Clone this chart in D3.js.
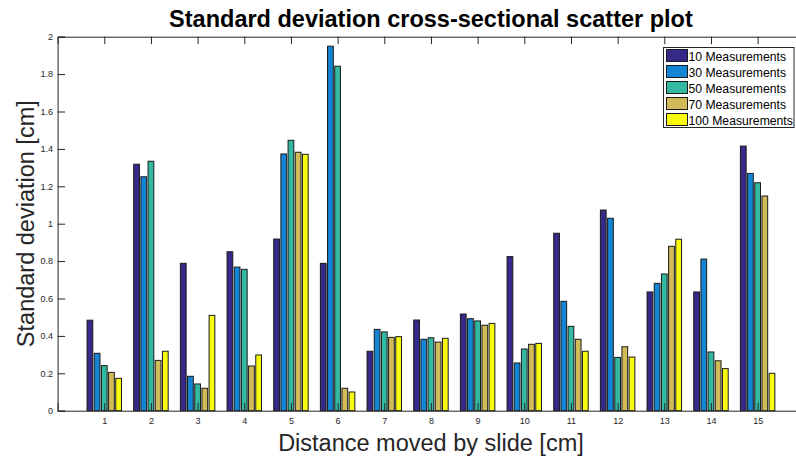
<!DOCTYPE html>
<html>
<head>
<meta charset="utf-8">
<script src="https://cdn.jsdelivr.net/npm/d3@7"></script>
<style>
  body { margin: 0; background: #fff; }
  svg { display: block; font-family: "Liberation Sans", Arial, Helvetica, sans-serif; }
</style>
</head>
<body>
<svg id="chart" width="796" height="459"></svg>
<script>
const categories = [1, 2, 3, 4, 5, 6, 7, 8, 9, 10, 11, 12, 13, 14, 15];
const seriesNames = ["10 Measurements", "30 Measurements", "50 Measurements", "70 Measurements", "100 Measurements"];
const m10  = [0.484, 1.318, 0.788, 0.850, 0.918, 0.788, 0.318, 0.485, 0.517, 0.824, 0.949, 1.073, 0.635, 0.635, 1.415];
const m30  = [0.307, 1.251, 0.184, 0.768, 1.373, 1.949, 0.435, 0.382, 0.492, 0.255, 0.585, 1.029, 0.681, 0.811, 1.269];
const m50  = [0.241, 1.334, 0.143, 0.756, 1.446, 1.842, 0.421, 0.390, 0.480, 0.330, 0.451, 0.285, 0.731, 0.314, 1.219];
const m70  = [0.205, 0.269, 0.120, 0.239, 1.382, 0.120, 0.392, 0.367, 0.457, 0.355, 0.382, 0.342, 0.879, 0.267, 1.148];
const m100 = [0.173, 0.318, 0.510, 0.298, 1.371, 0.100, 0.396, 0.387, 0.467, 0.360, 0.318, 0.287, 0.917, 0.225, 0.200];
const yTicks = [0, 0.2, 0.4, 0.6, 0.8, 1, 1.2, 1.4, 1.6, 1.8, 2];
const colors = ["#352a87", "#1484d4", "#33b8a1", "#d1bb59", "#f9fb0e"];

const series = [m10, m30, m50, m70, m100];

const svg = d3.select("#chart");
const mLeft = 57.6, mTop = 36.7, mBottom = 410.7;
const plotRight = 804.3;

const x = d3.scaleLinear().domain([0, 16]).range([mLeft, plotRight]);
const y = d3.scaleLinear().domain([0, 2]).range([mBottom, mTop]);

const nS = series.length;
const groupWidth = Math.min(0.8, nS / (nS + 1.5));
const slot = groupWidth / nS;
const barW = slot * 0.8;

// bars
series.forEach((vals, si) => {
  svg.append("g").selectAll("rect")
    .data(vals)
    .join("rect")
    .attr("x", (d, i) => x(categories[i] - groupWidth / 2 + slot * si + (slot - barW) / 2))
    .attr("y", d => y(d))
    .attr("width", x(barW) - x(0))
    .attr("height", d => y(0) - y(d))
    .attr("fill", colors[si])
    .attr("stroke", "#1a1a1a")
    .attr("stroke-width", 1);
});

const axisColor = "#262626";
const tickLen = 7.5;

// bottom axis
const xAxisB = d3.axisBottom(x).tickValues(categories).tickSize(-tickLen).tickPadding(6.5).tickFormat(d3.format("d"));
const gB = svg.append("g").attr("transform", `translate(0,${mBottom})`).call(xAxisB);
// top axis
const xAxisT = d3.axisTop(x).tickValues(categories).tickSize(-tickLen).tickFormat("");
const gT = svg.append("g").attr("transform", `translate(0,${mTop})`).call(xAxisT);
// left axis
const yAxisL = d3.axisLeft(y).tickValues(yTicks).tickSize(-tickLen).tickPadding(4.5).tickFormat(d => d3.format("~g")(d));
const gL = svg.append("g").attr("transform", `translate(${mLeft},0)`).call(yAxisL);

[gB, gT, gL].forEach(g => {
  g.select(".domain").attr("stroke", axisColor).attr("stroke-width", 1);
  g.selectAll(".tick line").attr("stroke", axisColor).attr("stroke-width", 1);
  g.selectAll(".tick text").attr("fill", axisColor).style("font-size", "9px");
});
gB.selectAll(".tick text").attr("dy", "0.71em");

// title
svg.append("text")
  .attr("x", (mLeft + plotRight) / 2)
  .attr("y", 26.5)
  .attr("text-anchor", "middle")
  .style("font-size", "23.5px")
  .style("font-weight", "bold")
  .attr("fill", "#000")
  .text("Standard deviation cross-sectional scatter plot");

// axis labels
svg.append("text")
  .attr("x", (mLeft + plotRight) / 2)
  .attr("y", 450.5)
  .attr("text-anchor", "middle")
  .style("font-size", "23.5px")
  .attr("fill", axisColor)
  .text("Distance moved by slide [cm]");

svg.append("text")
  .attr("transform", `translate(33.5,${(mTop + mBottom) / 2}) rotate(-90)`)
  .attr("text-anchor", "middle")
  .style("font-size", "23.5px")
  .attr("fill", axisColor)
  .text("Standard deviation [cm]");

// legend
const lg = svg.append("g");
const lx = 663.5, ly = 47.5, lw = 130.5, lh = 80;
lg.append("rect").attr("x", lx).attr("y", ly).attr("width", lw).attr("height", lh)
  .attr("fill", "#fff").attr("stroke", axisColor).attr("stroke-width", 1);
seriesNames.forEach((name, i) => {
  const ry = ly + 2 + i * 16;
  lg.append("rect").attr("x", lx + 3).attr("y", ry).attr("width", 21).attr("height", 12)
    .attr("fill", colors[i]).attr("stroke", "#1a1a1a").attr("stroke-width", 1);
  lg.append("text").attr("x", lx + 25).attr("y", ry + 11)
    .style("font-size", "12.2px").attr("fill", "#000").text(name);
});
</script>
</body>
</html>
